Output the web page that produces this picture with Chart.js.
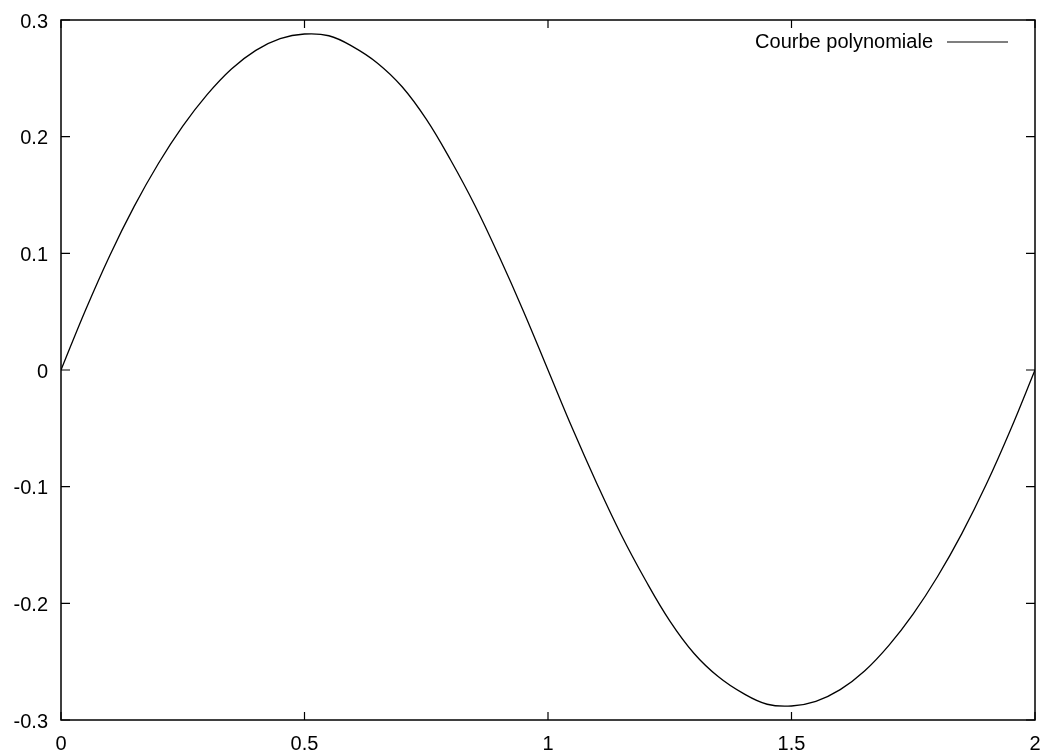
<!DOCTYPE html>
<html>
<head>
<meta charset="utf-8">
<script src="https://cdn.jsdelivr.net/npm/chart.js@4"></script>
<style>
  html, body { margin: 0; padding: 0; background: #fff; }
  #box { width: 1047px; height: 753px; }
</style>
</head>
<body>
<div id="box"><canvas id="myChart"></canvas></div>
<script>
const xs = [0, 0.05, 0.1, 0.15, 0.2, 0.25, 0.3, 0.35, 0.4, 0.45, 0.5, 0.55, 0.6, 0.65, 0.7, 0.75, 0.8, 0.85, 0.9, 0.95,
  1, 1.05, 1.1, 1.15, 1.2, 1.25, 1.3, 1.35, 1.4, 1.45, 1.5, 1.55, 1.6, 1.65, 1.7, 1.75, 1.8, 1.85, 1.9, 1.95, 2];
const ys = [0, 0.051, 0.098, 0.140, 0.177, 0.209, 0.236, 0.258, 0.274, 0.284, 0.288, 0.2865, 0.277, 0.263, 0.243, 0.215, 0.180, 0.141, 0.097, 0.050,
  0, -0.050, -0.097, -0.141, -0.180, -0.215, -0.243, -0.263, -0.277, -0.2865, -0.288, -0.284, -0.274, -0.258, -0.236, -0.209, -0.177, -0.140, -0.098, -0.051, 0];
const xTicks = [0, 0.5, 1, 1.5, 2];
const yTicks = [-0.3, -0.2, -0.1, 0, 0.1, 0.2, 0.3];
const seriesLabel = 'Courbe polynomiale';

const FONT = { family: '"Liberation Sans", Arial, Helvetica, sans-serif', size: 20 };

// gnuplot style frame: border plus inward ticks on all four sides, legend top right
const framePlugin = {
  id: 'frame',
  afterDatasetsDraw(chart) {
    const { ctx, chartArea: a, scales } = chart;
    ctx.save();
    ctx.strokeStyle = '#000';
    ctx.lineWidth = 1.5;
    ctx.strokeRect(a.left, a.top, a.right - a.left, a.bottom - a.top);
    ctx.lineWidth = 1.2;
    ctx.beginPath();
    yTicks.forEach(v => {
      const y = scales.y.getPixelForValue(v);
      ctx.moveTo(a.left, y); ctx.lineTo(a.left + 9, y);
      ctx.moveTo(a.right, y); ctx.lineTo(a.right - 9, y);
    });
    xTicks.forEach(v => {
      const x = scales.x.getPixelForValue(v);
      ctx.moveTo(x, a.bottom); ctx.lineTo(x, a.bottom - 8);
      ctx.moveTo(x, a.top); ctx.lineTo(x, a.top + 8);
    });
    ctx.stroke();

    // legend entry
    const ly = a.top + 22;
    ctx.font = '20px ' + FONT.family;
    ctx.fillStyle = '#000';
    ctx.textAlign = 'right';
    ctx.textBaseline = 'middle';
    ctx.fillText(seriesLabel, a.right - 102, ly);
    ctx.lineWidth = 1.2;
    ctx.beginPath();
    ctx.moveTo(a.right - 88, ly);
    ctx.lineTo(a.right - 27, ly);
    ctx.stroke();
    ctx.restore();
  }
};

// invisible tick marks only push the labels away from the frame
const hiddenGrid = (len) => ({
  display: true,
  drawOnChartArea: false,
  drawTicks: true,
  tickLength: len,
  color: 'rgba(0,0,0,0)'
});

const ctx = document.getElementById('myChart').getContext('2d');
new Chart(ctx, {
  type: 'line',
  data: {
    datasets: [{
      label: seriesLabel,
      data: xs.map((x, i) => ({ x: x, y: ys[i] })),
      borderColor: '#000',
      borderWidth: 1.3,
      pointRadius: 0,
      fill: false,
      tension: 0.4
    }]
  },
  options: {
    responsive: true,
    maintainAspectRatio: false,
    animation: false,
    layout: { padding: { top: 20, right: 12, left: 0, bottom: 0 } },
    plugins: {
      legend: { display: false },
      tooltip: { enabled: false }
    },
    scales: {
      x: {
        type: 'linear',
        min: 0,
        max: 2,
        afterBuildTicks: s => { s.ticks = xTicks.map(v => ({ value: v })); },
        afterFit: s => { s.height = 33; },
        grid: hiddenGrid(12),
        border: { display: false },
        ticks: {
          color: '#000',
          font: FONT,
          padding: 0,
          maxRotation: 0,
          callback: v => String(+v.toFixed(1))
        }
      },
      y: {
        type: 'linear',
        min: -0.3,
        max: 0.3,
        afterBuildTicks: s => { s.ticks = yTicks.map(v => ({ value: v })); },
        afterFit: s => { s.width = 61; },
        grid: hiddenGrid(13),
        border: { display: false },
        ticks: {
          color: '#000',
          font: FONT,
          padding: 0,
          labelOffset: 2,
          callback: v => String(+v.toFixed(1))
        }
      }
    }
  },
  plugins: [framePlugin]
});
</script>
</body>
</html>
